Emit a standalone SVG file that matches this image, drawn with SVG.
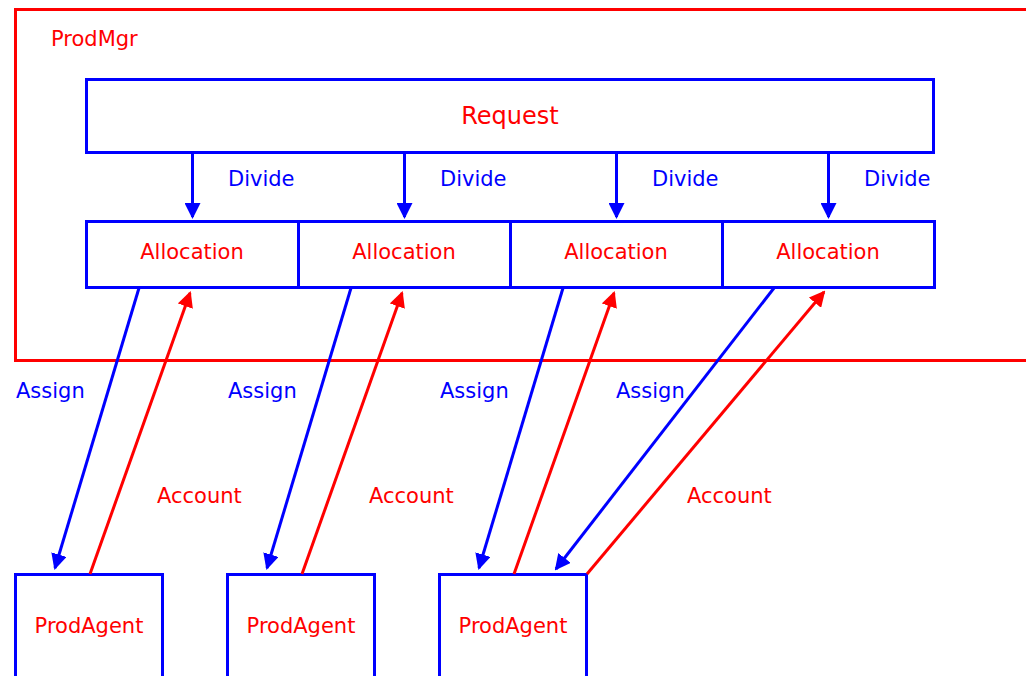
<svg xmlns="http://www.w3.org/2000/svg" width="1026" height="676" viewBox="0 0 1026 676">
  <style>
    .box { fill: #ffffff; stroke: #0000ff; stroke-width: 3; }
    .frame { fill: none; stroke: #ff0000; stroke-width: 3; }
    .lbl { font-family: "DejaVu Sans", "Liberation Sans", sans-serif; font-size: 21px; }
    .red { fill: #ff0000; }
    .blue { fill: #0000ff; }
    .mid { text-anchor: middle; }
    .assign { stroke: #0000ff; stroke-width: 3; fill: none; marker-end: url(#headBlue); }
    .account { stroke: #ff0000; stroke-width: 3; fill: none; marker-end: url(#headRed); }
  </style>
  <defs>
    <marker id="headBlue" markerUnits="userSpaceOnUse" markerWidth="16" markerHeight="16" refX="14" refY="8" orient="auto">
      <path d="M0,0 L16,8 L0,16 z" fill="#0000ff"/>
    </marker>
    <marker id="headRed" markerUnits="userSpaceOnUse" markerWidth="16" markerHeight="16" refX="14" refY="8" orient="auto">
      <path d="M0,0 L16,8 L0,16 z" fill="#ff0000"/>
    </marker>
  </defs>

  <rect width="1026" height="676" fill="#ffffff"/>

  <!-- manager frame -->
  <g id="prodmgr">
    <rect class="frame" x="15.5" y="9.5" width="1020" height="351"/>
    <text class="lbl red" x="51" y="46">ProdMgr</text>
  </g>

  <g id="request">
    <rect class="box" x="86.5" y="79.5" width="847" height="73"/>
    <text class="lbl red mid" x="510" y="124" style="font-size:24px">Request</text>
  </g>

  <g id="allocation1">
    <rect class="box" x="86.5" y="221.5" width="212" height="66"/>
    <text class="lbl red mid" x="192" y="259">Allocation</text>
  </g>
  <g id="allocation2">
    <rect class="box" x="298.5" y="221.5" width="212" height="66"/>
    <text class="lbl red mid" x="404" y="259">Allocation</text>
  </g>
  <g id="allocation3">
    <rect class="box" x="510.5" y="221.5" width="212" height="66"/>
    <text class="lbl red mid" x="616" y="259">Allocation</text>
  </g>
  <g id="allocation4">
    <rect class="box" x="722.5" y="221.5" width="212" height="66"/>
    <text class="lbl red mid" x="828" y="259">Allocation</text>
  </g>

  <g id="agent1">
    <rect class="box" x="15.5" y="574.5" width="147" height="120"/>
    <text class="lbl red mid" x="89" y="633">ProdAgent</text>
  </g>
  <g id="agent2">
    <rect class="box" x="227.5" y="574.5" width="147" height="120"/>
    <text class="lbl red mid" x="301" y="633">ProdAgent</text>
  </g>
  <g id="agent3">
    <rect class="box" x="439.5" y="574.5" width="147" height="120"/>
    <text class="lbl red mid" x="513" y="633">ProdAgent</text>
  </g>

  <!-- connectors -->
  <g id="connectors">
    <line class="assign" x1="192.5" y1="152" x2="192.5" y2="217"/>
    <line class="assign" x1="404.5" y1="152" x2="404.5" y2="217"/>
    <line class="assign" x1="616.5" y1="152" x2="616.5" y2="217"/>
    <line class="assign" x1="828.5" y1="152" x2="828.5" y2="217"/>

    <line class="assign" x1="139" y1="288" x2="55" y2="568"/>
    <line class="assign" x1="351" y1="288" x2="267" y2="568"/>
    <line class="assign" x1="563" y1="288" x2="479" y2="568"/>
    <line class="assign" x1="774" y1="288" x2="556" y2="569"/>

    <line class="account" x1="90" y1="574" x2="190" y2="293"/>
    <line class="account" x1="302" y1="574" x2="402" y2="293"/>
    <line class="account" x1="514" y1="574" x2="614" y2="293"/>
    <line class="account" x1="587" y1="574" x2="824" y2="292"/>

    <text class="lbl blue" x="228" y="186">Divide</text>
    <text class="lbl blue" x="440" y="186">Divide</text>
    <text class="lbl blue" x="652" y="186">Divide</text>
    <text class="lbl blue" x="864" y="186">Divide</text>

    <text class="lbl blue" x="16" y="398">Assign</text>
    <text class="lbl blue" x="228" y="398">Assign</text>
    <text class="lbl blue" x="440" y="398">Assign</text>
    <text class="lbl blue" x="616" y="398">Assign</text>

    <text class="lbl red" x="157" y="503">Account</text>
    <text class="lbl red" x="369" y="503">Account</text>
    <text class="lbl red" x="687" y="503">Account</text>
  </g>
</svg>
